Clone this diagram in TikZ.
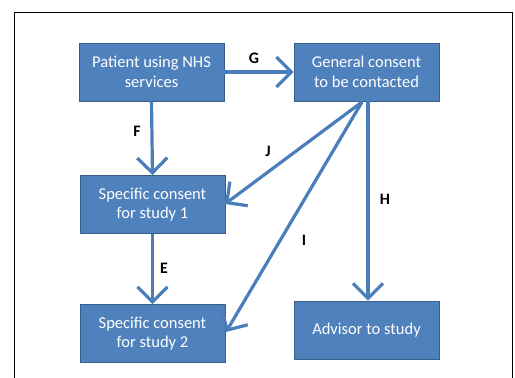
\documentclass[tikz,border=0pt]{standalone}
\usepackage{fontspec}
\setmainfont{Carlito}
\usetikzlibrary{arrows.meta}
\definecolor{boxfill}{HTML}{4F81BD}
\definecolor{boxline}{HTML}{385D8A}
\definecolor{arrowblue}{HTML}{4A7EBB}
\tikzset{
  stagebox/.style={draw=boxline, line width=0.8pt, fill=boxfill, text=white,
    minimum width=145pt, minimum height=58pt, align=center, inner sep=2pt,
    font=\fontsize{16.5}{19.5}\selectfont},
  flow/.style={draw=arrowblue, line width=3.2pt,
    -{Straight Barb[length=15pt,width=30pt]}},
  tag/.style={font=\fontsize{16}{18}\selectfont\bfseries, text=black}
}
\begin{document}
\begin{tikzpicture}[x=1pt,y=-1pt]
    \useasboundingbox (0,0) rectangle (515,378);
    \draw[line width=1pt] (14,378) -- (14,12) -- (512,12) -- (512,378);

    \node[stagebox] (patient) at (151.5,72) {Patient using NHS\\services};
    \node[stagebox] (general) at (366.5,72) {General consent\\to be contacted};
    \node[stagebox] (study1) at (152.5,204.5) {Specific consent\\for study 1};
    \node[stagebox] (study2) at (152.5,333.5) {Specific consent\\for study 2};
    \node[stagebox] (advisor) at (366.5,330) {Advisor to study};

    \coordinate (fan) at (362,102);
    \coordinate (tipJ) at (225,204);
    \coordinate (tipI) at (226,332);

    \draw[flow] (patient.east) -- (general.west);
    \draw[flow] (patient.south) -- (study1.north);
    \draw[flow] (study1.south) -- (study2.north);
    \draw[flow] (fan) -- (tipJ);
    \draw[flow] (fan) -- (tipI);
    \draw[flow] (general.south -| 368,0) -- (advisor.north -| 368,0);

    \node[tag] (labelG) at (254,58) {G};
    \node[tag] (labelF) at (137,131) {F};
    \node[tag] (labelE) at (164,268) {E};
    \node[tag] (labelJ) at (268,151) {J};
    \node[tag] (labelI) at (304,240) {I};
    \node[tag] (labelH) at (385,199) {H};
\end{tikzpicture}
\end{document}
